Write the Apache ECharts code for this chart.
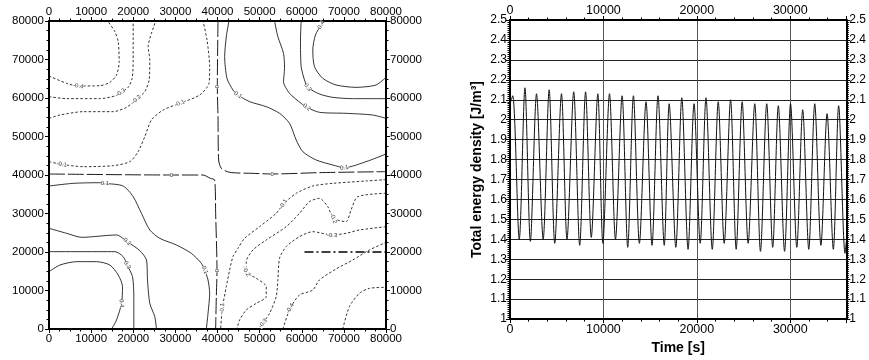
<!DOCTYPE html>
<html>
<head>
<meta charset="utf-8">
<script src="https://cdn.jsdelivr.net/npm/echarts@6/dist/echarts.min.js"></script>
<style>
  html, body { margin: 0; padding: 0; background: #fff; }
  #chart { width: 869px; height: 360px; }
</style>
</head>
<body>
<div id="chart"></div>
<script>
// ---------- Left panel: contour lines of the field over an 80 km x 80 km domain ----------
// Each array is one contour line as [x, y] pairs in metres.
const negTL04 = [[0,65710],[4190,63810],[6950,63120],[12080,63200],[14450,64070],[16030,65970],[16660,69440],[16430,74630],[15640,77230],[14060,79830],[13900,80000]];
const negTL03 = [[0,60350],[4190,59830],[12080,59830],[15640,60520],[16980,61390],[18790,62770],[19740,65110],[19980,69870],[19980,80000]];
const negTL02 = [[0,54720],[2610,55580],[8130,56450],[15240,56450],[18400,57580],[20770,59650],[22740,61650],[23770,64680],[23930,69870],[23530,73330],[24320,76800],[25350,80000]];
const negTL01 = [[0,43460],[3000,42770],[8130,42160],[15240,42420],[19190,43460],[21160,46060],[22740,49960],[24320,54290],[27090,56880],[31040,58610],[35770,60780],[37990,63810],[38140,68140],[37510,75070],[36560,80000]];

const zeroUpper = [[40120,80000],[39960,62940],[40120,55000],[40270,43900],[40910,41730],[42880,40690],[48410,40430],[52990,40260],[64200,40610],[80000,40870]];
const zeroLower = [[0,40260],[29060,40000],[36560,40000],[38300,39130],[39330,38700],[39560,30040],[39880,15150],[39720,8400],[39560,0]];

const posTR01 = [[42720,80000],[42090,75930],[41700,70740],[42250,65110],[43670,62080],[44860,60780],[47620,59050],[51570,57750],[54730,56020],[57100,53420],[58680,49090],[60260,46060],[63410,43900],[67360,42600],[70130,41900],[75260,43460],[80000,45450]];
const posTR02 = [[53540,80000],[54330,75930],[55670,71600],[55910,67700],[55670,64240],[57100,61210],[59860,58610],[61200,57580],[64200,56280],[70520,56020],[76830,55580],[80000,54720]];
const posTR03 = [[59860,80000],[59700,75070],[59860,68140],[60650,64680],[61440,62770],[64200,61040],[67360,60170],[72100,59830],[80000,59830]];
const posTR04 = [[65390,80000],[64600,78960],[63250,76360],[62620,72470],[63020,68140],[64990,65110],[68150,63380],[72890,62770],[77630,63380],[80000,65370]];

const posBL01 = [[0,37140],[5765,37835],[12080,38000],[13270,37835],[17610,37140],[19980,34370],[21950,30040],[23930,25710],[26300,23550],[30250,21820],[33800,19650],[36170,17060],[36960,15320],[37750,12730],[38140,9260],[37750,4070],[37350,0]];
const posBL02 = [[0,26150],[4190,24850],[7740,23810],[16030,24420],[18560,22680],[21560,20350],[23140,17920],[23380,12730],[23930,6670],[25110,3200],[25510,0]];
const posBL03 = [[0,20090],[15640,20090],[17610,18790],[18560,16620],[19820,13590],[20140,8400],[20140,0]];
const posBL04 = [[0,14890],[2610,16620],[6550,17490],[11290,17490],[14450,16620],[16430,14030],[17450,11000],[17220,6670],[16030,2340],[14850,0]];

const negBR01 = [[80000,38800],[75260,38440],[67360,37830],[62620,37140],[58680,35240],[55670,32470],[53940,30040],[49990,26580],[46430,23550],[44860,20950],[43670,18790],[42880,15320],[42090,11000],[41140,5370],[40750,0]];
const negBR02 = [[80000,35240],[73280,34370],[71700,30910],[70520,27880],[67520,28740],[66180,31770],[64200,33940],[61830,33070],[59460,30040],[56310,26580],[51570,23120],[48410,20520],[46830,17490],[46830,14890],[49200,13160],[51570,11000],[51570,8400],[49200,6670],[46830,4940],[45250,2340],[44620,0]];
const negBR03 = [[80000,26580],[73680,25710],[70520,24850],[67200,24420],[62620,25280],[59460,23980],[56310,21390],[54730,18360],[54330,12730],[53940,8400],[52360,4070],[50780,1470],[49990,0]];
const negBR04 = [[55520,0],[57250,5370],[59460,8830],[62620,10130],[64200,12730],[68000,15500],[72100,17920],[76000,20500],[80000,22500]];
const negBR05 = [[69730,0],[71310,5800],[73680,9260],[76050,10560],[80000,10820]];

// Section line drawn across the lower-right quadrant
const sectionLine = [[60650,20000],[80000,20000]];

// Contour labels: [x, y, text]
const contourLabels = [
  [6950,63120,'-0.4'],[16980,61390,'-0.3'],[20770,59650,'-0.2'],[31040,58610,'-0.1'],[3000,42770,'-0.1'],
  [39960,62940,'0'],[52990,40260,'0'],[29060,40000,'0'],[39880,15150,'0'],
  [44860,60780,'0.1'],[70130,41900,'0.1'],[61200,57580,'0.2'],[61440,62770,'0.3'],[64600,78960,'0.4'],
  [13270,37835,'0.1'],[36960,15320,'0.1'],[18560,22680,'0.2'],[18560,16620,'0.3'],[17220,6670,'0.4'],
  [55670,32470,'-0.1'],[41140,5370,'-0.1'],[67520,28740,'-0.2'],[46830,14890,'-0.2'],[67200,24420,'-0.3'],
  [50780,1470,'-0.3'],[57250,5370,'-0.4']
];
// Text angle of each contour label, in the same order
const contourLabelAngles = [-10,35,45,20,-8, 90,0,0,90, -35,10,-40,-55,60, 0,-70,-40,-60,-85, 60,85,-70,-60,0, 50,60];

// ---------- Right panel: total energy density time series ----------
const timeSec = [0,290,990,1600,2180,2840,3550,4190,4790,5510,6100,6820,7460,8090,8700,9400,9940,10650,11290,12000,12600,13210,13850,14560,15200,15840,16510,17040,17750,18390,19060,19700,20360,20980,21650,22290,22930,23610,24210,24850,25490,26200,26810,27480,28120,28720,29390,30030,30700,31330,31980,32620,33280,33940,34610,35180,35860,36000];
const energy = [2.08,2.12,1.40,2.16,1.39,2.13,1.40,2.15,1.38,2.13,1.40,2.14,1.37,2.14,1.41,2.13,1.38,2.13,1.40,2.12,1.36,2.12,1.38,2.09,1.37,2.12,1.37,2.08,1.36,2.11,1.35,2.08,1.38,2.11,1.35,2.09,1.38,2.10,1.35,2.09,1.38,2.08,1.34,2.08,1.36,2.07,1.34,2.08,1.36,2.05,1.35,2.08,1.37,2.03,1.35,2.07,1.33,1.39];

const FONT = '"Liberation Sans", Arial, Helvetica, sans-serif';

function frameAxis(o) {
  return {
    type: 'value',
    gridIndex: o.grid,
    position: o.position,
    min: o.min, max: o.max, interval: o.interval,
    axisLine: { show: true, onZero: false, lineStyle: { color: '#000', width: 2 } },
    axisTick: { show: true, inside: false, length: 4, lineStyle: { color: '#000', width: 1 } },
    minorTick: { show: true, splitNumber: o.minor, length: 2.5, lineStyle: { color: '#000', width: 1 } },
    axisLabel: {
      show: true, color: '#000', fontFamily: FONT, fontSize: o.fontSize, margin: o.margin,
      showMaxLabel: o.showMax !== false, hideOverlap: false,
      formatter: v => String(Math.round(v * 1000) / 1000)
    },
    splitLine: o.split ? { show: true, lineStyle: { color: o.split, width: 1 } } : { show: false },
    name: o.name || '',
    nameLocation: 'middle',
    nameGap: o.nameGap || 0,
    nameTextStyle: { fontFamily: FONT, fontSize: 14, fontWeight: 'bold', color: '#000' }
  };
}

const contourSets = [
  [negTL04, true], [negTL03, true], [negTL02, true], [negTL01, true],
  [posTR01, false], [posTR02, false], [posTR03, false], [posTR04, false],
  [posBL01, false], [posBL02, false], [posBL03, false], [posBL04, false],
  [negBR01, true], [negBR02, true], [negBR03, true], [negBR04, true], [negBR05, true]
];

const series = [];
contourSets.forEach(([pts, neg]) => {
  series.push({
    type: 'line', xAxisIndex: 0, yAxisIndex: 0, data: pts,
    showSymbol: false, smooth: 0.25, silent: true, z: 2,
    lineStyle: { color: '#000', width: 0.8, type: neg ? [2.5, 2] : 'solid' }
  });
});
[zeroUpper, zeroLower].forEach(pts => {
  series.push({
    type: 'line', xAxisIndex: 0, yAxisIndex: 0, data: pts,
    showSymbol: false, smooth: 0.25, silent: true, z: 2,
    lineStyle: { color: '#000', width: 0.9, type: [16, 3] }
  });
});
series.push({
  type: 'line', xAxisIndex: 0, yAxisIndex: 0, data: sectionLine,
  showSymbol: false, silent: true, z: 2,
  lineStyle: { color: '#000', width: 1.3, type: [9, 3, 2, 3] }
});
series.push({
  type: 'scatter', xAxisIndex: 0, yAxisIndex: 0, silent: true, z: 5,
  symbolSize: 0,
  data: contourLabels.map((d, i) => ({
    value: d,
    label: { rotate: contourLabelAngles[i] }
  })),
  label: {
    show: true, position: 'inside', formatter: p => p.value[2],
    fontFamily: FONT, fontSize: 6, color: '#000', backgroundColor: '#fff', padding: [0, 0]
  }
});
series.push({
  type: 'line', xAxisIndex: 2, yAxisIndex: 2,
  data: timeSec.map((t, i) => [t, energy[i]]),
  showSymbol: false, smooth: 0.3, silent: true, z: 3,
  lineStyle: { color: '#111', width: 1 }
});

const chart = echarts.init(document.getElementById('chart'), null, { renderer: 'canvas' });
chart.setOption({
  animation: false,
  backgroundColor: '#fff',
  grid: [
    { left: 49, top: 21, width: 337, height: 308, containLabel: false },
    { left: 510, top: 20, width: 338, height: 309, containLabel: false }
  ],
  xAxis: [
    frameAxis({ grid: 0, position: 'bottom', min: 0, max: 80000, interval: 10000, minor: 4, fontSize: 11.5, margin: 4 }),
    frameAxis({ grid: 0, position: 'top', min: 0, max: 80000, interval: 10000, minor: 4, fontSize: 11.5, margin: 3 }),
    frameAxis({ grid: 1, position: 'bottom', min: 0, max: 36000, interval: 10000, minor: 5, fontSize: 12.5, margin: 4,
                showMax: false, split: '#555', name: 'Time [s]', nameGap: 20 }),
    frameAxis({ grid: 1, position: 'top', min: 0, max: 36000, interval: 10000, minor: 5, fontSize: 12.5, margin: 3, showMax: false })
  ],
  yAxis: [
    frameAxis({ grid: 0, position: 'left', min: 0, max: 80000, interval: 10000, minor: 4, fontSize: 11.5, margin: 5 }),
    frameAxis({ grid: 0, position: 'right', min: 0, max: 80000, interval: 10000, minor: 4, fontSize: 11.5, margin: 4 }),
    frameAxis({ grid: 1, position: 'left', min: 1, max: 2.5, interval: 0.1, minor: 10, fontSize: 12, margin: 3,
                split: '#222', name: 'Total energy density [J/m³]', nameGap: 26 }),
    frameAxis({ grid: 1, position: 'right', min: 1, max: 2.5, interval: 0.1, minor: 10, fontSize: 12, margin: 3 })
  ],
  series: series
});
</script>
</body>
</html>
